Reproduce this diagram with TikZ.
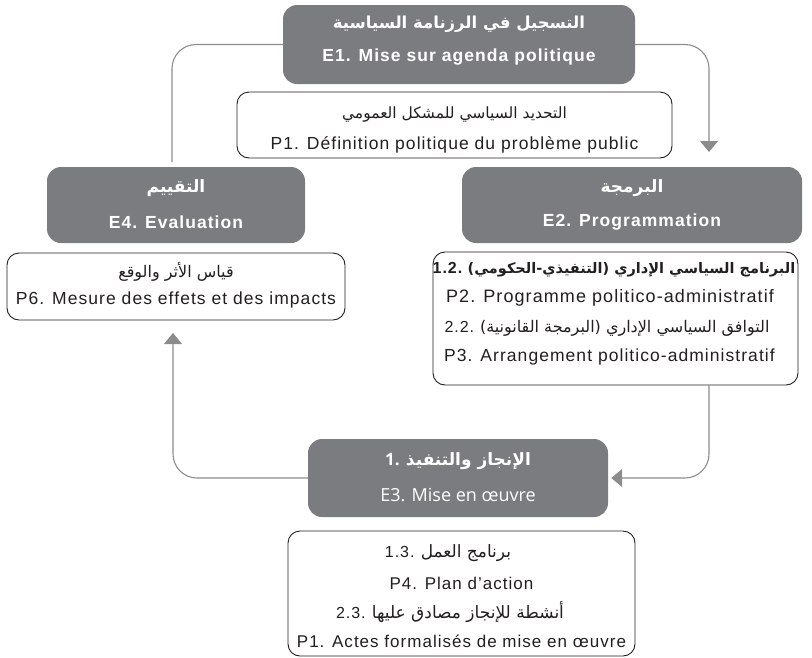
\documentclass[tikz,border=0pt]{standalone}
\usepackage{fontspec}
\setmainfont{Liberation Sans}
\newfontfamily\lat[LetterSpace=6]{Liberation Sans}
\newfontfamily\ar[Script=Arabic]{DejaVu Sans}
\newfontfamily\myr{Open Sans}
\TeXXeTstate=1
\usetikzlibrary{arrows.meta}
\definecolor{boxgray}{HTML}{7B7C7F}
\definecolor{linegray}{HTML}{8C8C8C}
\definecolor{ink}{HTML}{231F20}
\newcommand\AR[1]{{\ar\beginR #1\endR}}
\newcommand\sz[1]{\fontsize{#1}{#1}\selectfont}
\begin{document}
\begin{tikzpicture}[x=1pt,y=-1pt,
  gbox/.style={fill=boxgray, rounded corners=14pt, inner sep=0pt, draw=none},
  wbox/.style={draw=ink, line width=0.9pt, fill=white, rounded corners=12pt, inner sep=0pt},
  link/.style={draw=linegray, line width=1.1pt, rounded corners=24pt},
  tip/.style={-{Triangle[width=18pt,length=11pt]}},
  wt/.style={text=white, inner sep=0pt},
  bt/.style={text=ink, inner sep=0pt},
]
\useasboundingbox (0,0) rectangle (812,657);

% stage boxes (grey) and product boxes (outlined)
\node[gbox, minimum width=352pt, minimum height=79pt] (e1) at (459,44.5) {};
\node[wbox, minimum width=435pt, minimum height=66pt] (p1) at (454.5,125) {};
\node[gbox, minimum width=258pt, minimum height=76pt] (e4) at (176,205) {};
\node[wbox, minimum width=338pt, minimum height=67pt] (p6) at (176,286.5) {};
\node[gbox, minimum width=340pt, minimum height=76pt] (e2) at (632,205) {};
\node[wbox, minimum width=365pt, minimum height=133pt] (p2) at (615.5,318.5) {};
\node[gbox, minimum width=300pt, minimum height=78pt] (e3) at (458,478) {};
\node[wbox, minimum width=347pt, minimum height=125pt] (p4) at (461.5,593.5) {};

% connectors of the cycle
\coordinate (lt) at (172,162);
\coordinate (rt) at (709,152);
\coordinate (lb) at (173,333);
\draw[link] (e1.west) -| (lt);
\draw[link, tip] (e1.east) -| (rt);
\draw[link, tip, shorten >=3pt] (p2.south -| rt) |- (e3.east);
\draw[link, tip] (e3.west) -| (lb);

% E1
\node[wt] (e1a) at (459,24) {\sz{16.5}\bfseries\AR{التسجيل في الرزنامة السياسية}};
\node[wt] (e1b) at (459,57) {\sz{17.5}\lat\bfseries E1. Mise sur agenda politique};
% P1
\node[bt] (p1a) at (454.5,114) {\sz{15.5}\AR{التحديد السياسي للمشكل العمومي}};
\node[bt] (p1b) at (454.5,145) {\sz{17.5}\lat P1. Définition politique du problème public};
% E4
\node[wt] (e4a) at (176,188) {\sz{17}\bfseries\AR{التقييم}};
\node[wt] (e4b) at (176,222) {\sz{17.5}\lat\bfseries E4. Evaluation};
% P6
\node[bt] (p6a) at (176,272) {\sz{16}\AR{قياس الأثر والوقع}};
\node[bt] (p6b) at (176,300) {\sz{17.5}\lat P6. Mesure des effets et des impacts};
% E2
\node[wt] (e2a) at (632,188) {\sz{17}\bfseries\AR{البرمجة}};
\node[wt] (e2b) at (632,222) {\sz{17.5}\lat\bfseries E2. Programmation};
% P2 / P3
\node[bt] (p2a) at (614,270) {\sz{14.5}{\sz{16}\lat\bfseries 1.2.} {\bfseries\AR{البرنامج السياسي الإداري (التنفيذي-الحكومي)}}};
\node[bt] (p2b) at (610,298) {\sz{18}\lat P2. Programme politico-administratif};
\node[bt] (p2c) at (607,328) {\sz{16}{\sz{16}\lat 2.2.} \AR{التوافق السياسي الإداري (البرمجة القانونية)}};
\node[bt] (p2d) at (609.5,357) {\sz{17.5}\lat P3. Arrangement politico-administratif};
% E3
\node[wt] (e3a) at (458,461) {\sz{17}{\myr\bfseries 1.} {\bfseries\AR{الإنجاز والتنفيذ}}};
\node[wt] (e3b) at (458,495) {\sz{18}\myr E3. Mise en œuvre};
% P4 / P1 actes
\node[bt] (p4a) at (448,553) {\sz{17}{\sz{16}\lat 1.3.} \AR{برنامج العمل}};
\node[bt] (p4b) at (461.5,583) {\sz{17}\lat P4. Plan d’action};
\node[bt] (p4c) at (450,612) {\sz{17}{\sz{16}\lat 2.3.} \AR{أنشطة للإنجاز مصادق عليها}};
\node[bt] (p4d) at (461.5,641) {\sz{17}\lat P1. Actes formalisés de mise en œuvre};
\end{tikzpicture}
\end{document}
